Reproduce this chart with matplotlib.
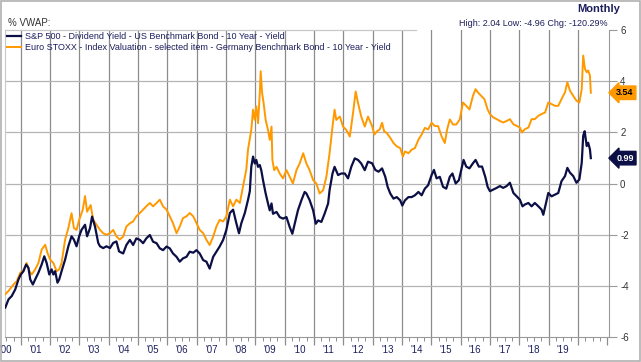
import matplotlib
matplotlib.use("Agg")
import matplotlib.pyplot as plt
import matplotlib.transforms as mtransforms
from matplotlib.patches import Rectangle
import numpy as np

plt.rcParams['font.family'] = ['Liberation Sans', 'DejaVu Sans']

# ---- data (decimal years, % yield gap) ----
sp_years = [2000.47, 2000.58, 2000.69, 2000.81, 2000.92, 2001.00, 2001.09, 2001.18, 2001.26, 2001.32,
            2001.41, 2001.49, 2001.60, 2001.71, 2001.80, 2001.88, 2001.97, 2002.05, 2002.11, 2002.17,
            2002.25, 2002.31, 2002.39, 2002.51, 2002.62, 2002.73, 2002.81, 2002.90, 2002.99, 2003.07,
            2003.19, 2003.26, 2003.36, 2003.43, 2003.53, 2003.64, 2003.70, 2003.81, 2003.92, 2004.04,
            2004.15, 2004.26, 2004.35, 2004.49, 2004.60, 2004.72, 2004.83, 2004.94, 2005.06, 2005.17,
            2005.28, 2005.40, 2005.51, 2005.63, 2005.74, 2005.85, 2005.97, 2006.08, 2006.19, 2006.31,
            2006.42, 2006.53, 2006.65, 2006.76, 2006.88, 2006.99, 2007.10, 2007.22, 2007.33, 2007.44,
            2007.56, 2007.67, 2007.78, 2007.90, 2008.01, 2008.13, 2008.24, 2008.35, 2008.44, 2008.52,
            2008.64, 2008.75, 2008.81, 2008.86, 2008.92, 2008.98, 2009.03, 2009.09, 2009.15, 2009.20,
            2009.26, 2009.35, 2009.43, 2009.49, 2009.55, 2009.60, 2009.72, 2009.83, 2009.94, 2010.06,
            2010.17, 2010.26, 2010.34, 2010.45, 2010.57, 2010.68, 2010.74, 2010.85, 2010.97, 2011.06,
            2011.14, 2011.25, 2011.36, 2011.48, 2011.53, 2011.63, 2011.70, 2011.82, 2011.93, 2012.05,
            2012.16, 2012.27, 2012.39, 2012.50, 2012.61, 2012.73, 2012.84, 2012.98, 2013.09, 2013.20,
            2013.32, 2013.43, 2013.51, 2013.60, 2013.71, 2013.82, 2013.94, 2014.01, 2014.10, 2014.22,
            2014.33, 2014.44, 2014.56, 2014.67, 2014.78, 2014.89, 2015.01, 2015.09, 2015.18, 2015.29,
            2015.40, 2015.51, 2015.63, 2015.72, 2015.83, 2015.94, 2016.02, 2016.10, 2016.19, 2016.30,
            2016.42, 2016.51, 2016.62, 2016.73, 2016.84, 2016.92, 2017.00, 2017.11, 2017.23, 2017.34,
            2017.45, 2017.57, 2017.68, 2017.80, 2017.91, 2018.02, 2018.11, 2018.19, 2018.31, 2018.42,
            2018.53, 2018.65, 2018.76, 2018.82, 2018.90, 2018.99, 2019.10, 2019.22, 2019.33, 2019.44,
            2019.56, 2019.64, 2019.73, 2019.84, 2019.95, 2020.05, 2020.13, 2020.18, 2020.23, 2020.30,
            2020.35, 2020.41, 2020.44]
sp_vals = [-4.84, -4.52, -4.39, -4.13, -3.74, -3.55, -3.42, -3.16, -3.29, -3.74,
           -3.94, -3.74, -3.48, -3.16, -2.84, -3.10, -3.55, -3.35, -3.55, -3.42,
           -3.87, -3.74, -3.42, -2.97, -2.45, -2.06, -2.19, -2.45, -2.06, -1.81,
           -1.61, -2.06, -1.74, -1.29, -1.68, -2.32, -2.45, -2.52, -2.45, -2.52,
           -2.32, -2.26, -2.65, -2.73, -2.40, -2.20, -2.40, -2.14, -2.20, -2.33,
           -2.14, -2.01, -2.27, -2.33, -2.53, -2.60, -2.46, -2.53, -2.73, -2.86,
           -3.05, -2.92, -2.86, -2.66, -2.70, -2.60, -2.73, -2.99, -3.05, -3.32,
           -2.86, -2.66, -2.46, -2.20, -1.81, -1.15, -1.02, -1.55, -1.94, -1.55,
           -1.15, -0.63, -0.30, 0.65, 1.05, 0.78, 0.92, 0.65, 0.72, 0.52,
           0.13, -0.39, -0.78, -1.05, -0.78, -1.18, -1.11, -1.31, -1.37, -1.31,
           -1.70, -1.96, -1.57, -1.05, -0.65, -0.33, -0.39, -0.65, -1.05, -1.57,
           -1.44, -1.50, -1.18, -0.78, -0.26, 0.39, 0.65, 0.33, 0.39, 0.39,
           0.20, 0.65, 0.98, 0.92, 0.78, 0.52, 0.85, 0.79, 0.53, 0.46,
           0.59, 0.26, -0.13, -0.39, -0.59, -0.53, -0.66, -0.86, -0.66, -0.53,
           -0.53, -0.46, -0.33, -0.46, -0.20, -0.07, 0.33, 0.53, 0.20, 0.26,
           -0.13, -0.20, 0.26, 0.39, 0.00, 0.13, 0.53, 0.92, 0.66, 0.59,
           0.79, 0.92, 0.66, 0.66, 0.26, -0.13, -0.30, -0.24, -0.17, -0.10,
           -0.17, -0.10, 0.03, -0.37, -0.50, -0.63, -0.89, -0.82, -0.76, -0.89,
           -0.76, -0.89, -1.02, -1.22, -0.82, -0.37, -0.50, -0.43, -0.37, 0.09,
           0.29, 0.61, 0.42, 0.29, 0.03, 0.16, 0.81, 1.86, 2.04, 1.46,
           1.59, 1.33, 0.99]

eu_years = [2000.47, 2000.58, 2000.75, 2000.86, 2000.98, 2001.07, 2001.20, 2001.29, 2001.37, 2001.49,
            2001.60, 2001.71, 2001.83, 2001.91, 2002.00, 2002.11, 2002.22, 2002.31, 2002.39, 2002.51,
            2002.62, 2002.73, 2002.81, 2002.90, 2002.99, 2003.11, 2003.19, 2003.26, 2003.38, 2003.47,
            2003.58, 2003.70, 2003.81, 2003.92, 2004.04, 2004.15, 2004.26, 2004.37, 2004.49, 2004.60,
            2004.72, 2004.83, 2004.94, 2005.06, 2005.17, 2005.28, 2005.40, 2005.51, 2005.63, 2005.74,
            2005.85, 2005.97, 2006.08, 2006.19, 2006.31, 2006.42, 2006.53, 2006.65, 2006.76, 2006.88,
            2006.99, 2007.10, 2007.22, 2007.33, 2007.44, 2007.56, 2007.67, 2007.78, 2007.90, 2008.01,
            2008.13, 2008.24, 2008.35, 2008.47, 2008.58, 2008.69, 2008.75, 2008.86, 2008.92, 2008.98,
            2009.03, 2009.09, 2009.15, 2009.18, 2009.23, 2009.28, 2009.35, 2009.43, 2009.49, 2009.55,
            2009.58, 2009.64, 2009.72, 2009.83, 2009.94, 2010.06, 2010.17, 2010.28, 2010.40, 2010.51,
            2010.63, 2010.74, 2010.85, 2010.97, 2011.08, 2011.19, 2011.31, 2011.42, 2011.53, 2011.63,
            2011.70, 2011.76, 2011.88, 2011.99, 2012.10, 2012.22, 2012.33, 2012.42, 2012.50, 2012.61,
            2012.73, 2012.84, 2012.98, 2013.06, 2013.15, 2013.24, 2013.32, 2013.39, 2013.48, 2013.60,
            2013.71, 2013.82, 2013.94, 2014.03, 2014.10, 2014.22, 2014.33, 2014.44, 2014.56, 2014.67,
            2014.78, 2014.89, 2015.01, 2015.12, 2015.23, 2015.35, 2015.46, 2015.54, 2015.63, 2015.74,
            2015.85, 2015.97, 2016.08, 2016.19, 2016.30, 2016.42, 2016.51, 2016.59, 2016.70, 2016.81,
            2016.92, 2017.00, 2017.11, 2017.23, 2017.34, 2017.45, 2017.57, 2017.68, 2017.80, 2017.91,
            2018.02, 2018.09, 2018.19, 2018.31, 2018.42, 2018.53, 2018.65, 2018.76, 2018.88, 2018.99,
            2019.10, 2019.22, 2019.33, 2019.44, 2019.56, 2019.64, 2019.73, 2019.84, 2019.95, 2020.05,
            2020.13, 2020.18, 2020.24, 2020.30, 2020.35, 2020.41, 2020.44]
eu_vals = [-4.32, -4.19, -3.94, -3.81, -3.48, -3.42, -3.10, -3.42, -3.55, -3.35,
           -3.10, -2.58, -2.39, -2.71, -2.97, -3.10, -3.42, -3.35, -3.10, -2.19,
           -1.74, -1.16, -1.74, -1.81, -1.42, -1.03, -0.49, -1.10, -0.84, -1.42,
           -1.61, -1.81, -1.94, -2.00, -1.94, -1.81, -2.06, -2.19, -2.07, -1.68,
           -1.55, -1.48, -1.28, -1.15, -1.02, -0.89, -0.76, -0.89, -0.76, -0.63,
           -0.89, -1.02, -1.28, -1.55, -1.94, -1.68, -1.35, -1.28, -1.15, -1.28,
           -1.55, -1.81, -1.94, -2.20, -2.40, -2.07, -1.68, -1.42, -1.48, -1.28,
           -0.63, -0.89, -0.63, -0.76, -0.10, 0.55, 1.34, 2.09, 2.88, 2.48,
           3.01, 2.35, 3.53, 4.38, 3.53, 3.14, 2.48, 2.09, 1.70, 2.22,
           0.92, 0.52, 0.65, 0.39, 0.20, 0.52, 0.26, 0.00, 0.52, 0.78,
           1.18, 0.78, 0.52, 0.13, 0.00, -0.39, -0.26, 0.26, 1.18, 2.22,
           2.88, 2.48, 2.61, 2.22, 2.09, 1.83, 2.75, 3.59, 3.14, 2.61,
           2.22, 2.61, 2.24, 1.91, 2.04, 2.11, 2.37, 2.04, 1.97, 1.78,
           1.58, 1.45, 1.38, 1.05, 1.25, 1.18, 1.32, 1.38, 1.71, 1.91,
           2.17, 2.11, 2.37, 2.24, 2.24, 1.84, 1.58, 2.11, 2.50, 2.30,
           2.30, 2.50, 3.16, 3.03, 2.89, 3.42, 3.68, 3.55, 3.42, 3.29,
           2.89, 2.71, 2.58, 2.51, 2.44, 2.38, 2.44, 2.51, 2.31, 2.25,
           2.18, 1.99, 2.12, 2.18, 2.51, 2.51, 2.64, 2.71, 2.77, 3.16,
           3.10, 3.03, 3.03, 3.29, 3.56, 3.95, 3.62, 3.42, 3.23, 3.16,
           3.69, 4.99, 4.47, 4.34, 4.41, 4.21, 3.54]

sp_label = "S&P 500 - Dividend Yield - US Benchmark Bond - 10 Year - Yield"
eu_label = "Euro STOXX - Index Valuation - selected item - Germany Benchmark Bond - 10 Year - Yield"
year_labels = ["'00", "'01", "'02", "'03", "'04", "'05", "'06", "'07", "'08", "'09",
               "'10", "'11", "'12", "'13", "'14", "'15", "'16", "'17", "'18", "'19"]
y_ticks = [-6, -4, -2, 0, 2, 4, 6]

NAVY = "#0c0f45"
ORANGE = "#ff9900"
TXT = "#1c1f5c"

fig = plt.figure(figsize=(6.41, 3.62), dpi=100)
fig.patch.set_facecolor("white")
# outer frame
fig.patches.append(Rectangle((0.001, 0.002), 0.997, 0.995, transform=fig.transFigure,
                             fill=False, edgecolor="#b0b0b0", linewidth=1.2))

ax = fig.add_axes([5/641, 1-337.3/362, 604/641, 307.6/362])
ax.set_xlim(2000.46, 2021.06)
ax.set_ylim(-6, 6)

ax.plot(eu_years, eu_vals, color=ORANGE, lw=1.4, label=eu_label, zorder=3)
ax.plot(sp_years, sp_vals, color=NAVY, lw=1.6, label=sp_label, zorder=4)

# grid
years = list(range(2001, 2021))
for yr in years:
    ax.axvline(yr, color="#8c8c8c", lw=0.9, zorder=1)
for yv in [-4, -2, 0, 2, 4]:
    ax.axhline(yv, color="#b4b4b4", lw=0.9, zorder=1)

# spines
ax.spines["top"].set_visible(False)
ax.spines["right"].set_color("#9a9a9a")
ax.spines["bottom"].set_color("#9a9a9a")
ax.spines["left"].set_color("#c8c8c8")
ax.plot([0, 0.68], [1, 1], transform=ax.transAxes, color="#c8c8c8", lw=0.9, clip_on=False)

# y axis on the right
ax.yaxis.tick_right()
ax.set_yticks(y_ticks)
ax.set_yticklabels([str(v) for v in y_ticks])
ax.tick_params(axis="y", length=6, width=0.8, color="#9a9a9a", pad=2, labelsize=7, labelcolor="#333333")

# x axis: major ticks at year starts, labels mid-year
ax.set_xticks(years + [2021])
ax.set_xticklabels([])
ax.tick_params(axis="x", which="major", length=6, width=0.9, color="#8c8c8c")
minor = [y + q for y in range(2000, 2021) for q in (0.25, 0.5, 0.75) if 2000.46 < y + q < 2020.8]
ax.set_xticks(minor, minor=True)
ax.tick_params(axis="x", which="minor", length=3, width=0.7, color="#8c8c8c")
lab_tr = mtransforms.blended_transform_factory(ax.transData, ax.transAxes) + \
    mtransforms.ScaledTranslation(0, -13/100, fig.dpi_scale_trans)
for i, lab in enumerate(year_labels):
    ax.text(2000.5 + i, 0, lab, transform=lab_tr, ha="center", va="center", fontsize=7, color=TXT)

# legend
leg = ax.legend(handles=[ax.lines[1], ax.lines[0]], loc="upper left", bbox_to_anchor=(0.0, 1.0),
                frameon=False, fontsize=6.5, handlelength=1.5, handletextpad=0.5,
                labelspacing=0.2, borderaxespad=0.15, borderpad=0.1)
for t in leg.get_texts():
    t.set_color(TXT)

# header texts
fig.text(8/641, 1-23/362, "% VWAP:", fontsize=7, color="#333333", va="center", ha="left")
fig.text(620/641, 1-9/362, "Monthly", fontsize=8, fontweight="bold", color=TXT, va="center", ha="right")
fig.text(608/641, 1-23.5/362, "High: 2.04 Low: -4.96 Chg: -120.29%", fontsize=6.5, color=TXT,
         va="center", ha="right")

# last value tags
bt = mtransforms.blended_transform_factory(ax.transAxes, ax.transData)
ax.text(1.012, eu_vals[-1], f"{eu_vals[-1]:.2f}", transform=bt, ha="left", va="center", fontsize=6.5,
        color="black", fontweight="bold",
        bbox=dict(boxstyle="larrow,pad=0.25", fc=ORANGE, ec=ORANGE), clip_on=False, zorder=6)
ax.text(1.012, sp_vals[-1], f"{sp_vals[-1]:.2f}", transform=bt, ha="left", va="center", fontsize=6.5,
        color="white", fontweight="bold",
        bbox=dict(boxstyle="larrow,pad=0.25", fc=NAVY, ec=NAVY), clip_on=False, zorder=6)

fig.savefig("out.png", dpi=100)
